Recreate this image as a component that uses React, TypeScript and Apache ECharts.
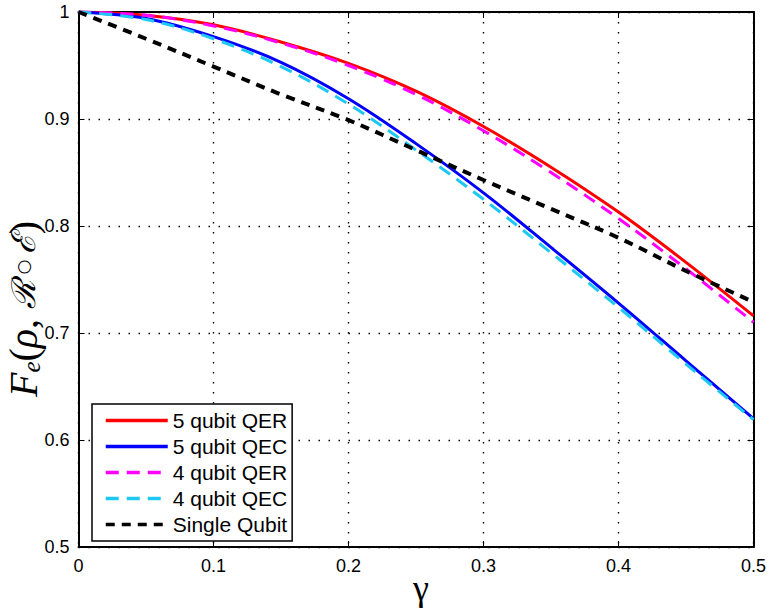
import React, { useEffect, useRef } from "react";
import * as echarts from "echarts";

const gammas = [0, 0.05, 0.1, 0.15, 0.2, 0.25, 0.3, 0.35, 0.4, 0.45, 0.5];
const qer5 = [1, 0.997, 0.988, 0.972, 0.952, 0.926, 0.893, 0.855, 0.813, 0.766, 0.716];
const qec5 = [1, 0.994, 0.977, 0.953, 0.919, 0.877, 0.831, 0.78, 0.728, 0.674, 0.62];
const qer4 = [1, 0.997, 0.987, 0.971, 0.95, 0.923, 0.889, 0.85, 0.807, 0.76, 0.71];
const qec4 = [1, 0.993, 0.975, 0.949, 0.914, 0.871, 0.825, 0.775, 0.724, 0.671, 0.619];
const single = [1, 0.975, 0.949, 0.923, 0.899, 0.871, 0.843, 0.816, 0.789, 0.758, 0.729];

const seriesNames = ["5 qubit QER", "5 qubit QEC", "4 qubit QER", "4 qubit QEC", "Single Qubit"];
const xTickLabels = ["0", "0.1", "0.2", "0.3", "0.4", "0.5"];
const yTickLabels = ["0.5", "0.6", "0.7", "0.8", "0.9", "1"];

const pair = (ys: number[]) => gammas.map((g, i) => [g, ys[i]]);

export default function App() {
  const ref = useRef<HTMLDivElement>(null);
  useEffect(() => {
    document.body.style.margin = "0";
    const chart = echarts.init(ref.current!, null, { renderer: "svg" });
    const font = "'Liberation Sans', Arial, sans-serif";
    const serif = "'Liberation Serif', 'DejaVu Serif', serif";
    const gridLine = { show: true, lineStyle: { color: "#000", width: 1.4, type: [1.5, 8.5] as any } };
    const xLab = (v: number) => xTickLabels[Math.round(v * 10)] ?? "";
    const yLab = (v: number) => yTickLabels[Math.round(v * 10) - 5] ?? "";
    const mk = (name: string, data: number[], color: string, width: number, type: any, z: number) => ({
      name,
      type: "line",
      data: pair(data),
      smooth: 0.35,
      symbol: "none",
      z,
      lineStyle: { color, width, type },
      itemStyle: { color },
    });
    chart.setOption({
      animation: false,
      backgroundColor: "#fff",
      grid: { left: 78.5, right: 13, top: 12, bottom: 61, containLabel: false },
      xAxis: [
        {
          type: "value", min: 0, max: 0.5, interval: 0.1,
          axisLine: { show: true, onZero: false, lineStyle: { color: "#000", width: 2 } },
          axisTick: { show: true, inside: true, length: 6, lineStyle: { color: "#000", width: 1 } },
          axisLabel: { color: "#000", fontSize: 18, fontFamily: font, margin: 10, formatter: xLab },
          splitLine: gridLine,
        },
        {
          type: "value", min: 0, max: 0.5, interval: 0.1, position: "top",
          axisLine: { show: true, onZero: false, lineStyle: { color: "#000", width: 2 } },
          axisTick: { show: true, inside: true, length: 6, lineStyle: { color: "#000", width: 1 } },
          axisLabel: { show: false },
          splitLine: { show: false },
        },
      ],
      yAxis: [
        {
          type: "value", min: 0.5, max: 1, interval: 0.1,
          axisLine: { show: true, onZero: false, lineStyle: { color: "#000", width: 2 } },
          axisTick: { show: true, inside: true, length: 6, lineStyle: { color: "#000", width: 1 } },
          axisLabel: { color: "#000", fontSize: 18, fontFamily: font, margin: 9, formatter: yLab },
          splitLine: gridLine,
        },
        {
          type: "value", min: 0.5, max: 1, interval: 0.1, position: "right",
          axisLine: { show: true, onZero: false, lineStyle: { color: "#000", width: 2 } },
          axisTick: { show: true, inside: true, length: 6, lineStyle: { color: "#000", width: 1 } },
          axisLabel: { show: false },
          splitLine: { show: false },
        },
      ],
      legend: {
        orient: "vertical",
        left: 92,
        top: 404,
        data: seriesNames,
        itemWidth: 62,
        itemHeight: 14,
        itemGap: 5,
        padding: [6, 5, 6, 12],
        backgroundColor: "#fff",
        borderColor: "#000",
        borderWidth: 1.5,
        borderRadius: 0,
        itemStyle: { opacity: 0, borderWidth: 0 },
        lineStyle: { width: 3.5 },
        textStyle: { color: "#000", fontSize: 21, fontFamily: font, lineHeight: 21 },
      },
      series: [
        mk(seriesNames[0], qer5, "#ff0000", 3, "solid", 2),
        mk(seriesNames[1], qec5, "#0000ff", 3, "solid", 3),
        mk(seriesNames[2], qer4, "#ff00ff", 3, [13, 8], 4),
        mk(seriesNames[3], qec4, "#1ec8f5", 3, [13, 8], 5),
        mk(seriesNames[4], single, "#000000", 4, [9, 7], 6),
      ],
      graphic: [
        {
          type: "text",
          x: 23,
          y: 309,
          rotation: Math.PI / 2,
          style: {
            text: "{it|F}{sub|e}{n|(}{it|ρ}{n|, }{sc|ℛ}{o| ○ }{sc|ℰ}{n|)}",
            align: "center",
            verticalAlign: "middle",
            fill: "#000",
            rich: {
              it: { fontFamily: serif, fontStyle: "italic", fontSize: 40, fill: "#000" },
              sub: { fontFamily: serif, fontStyle: "italic", fontSize: 25, fill: "#000", padding: [17, 0, 0, 0] },
              n: { fontFamily: serif, fontSize: 40, fill: "#000" },
              o: { fontFamily: "'DejaVu Sans', sans-serif", fontSize: 17, fill: "#000" },
              sc: { fontFamily: "'DejaVu Serif', serif", fontStyle: "italic", fontSize: 33, fill: "#000" },
            },
          },
        },
        {
          type: "text",
          x: 421,
          y: 588,
          style: {
            text: "γ",
            align: "center",
            verticalAlign: "middle",
            fontFamily: serif,
            fontSize: 36,
            fill: "#000",
          },
        },
      ],
    });
    return () => chart.dispose();
  }, []);
  return <div ref={ref} style={{ position: "fixed", left: 0, top: 0, width: 769, height: 608 }} />;
}
